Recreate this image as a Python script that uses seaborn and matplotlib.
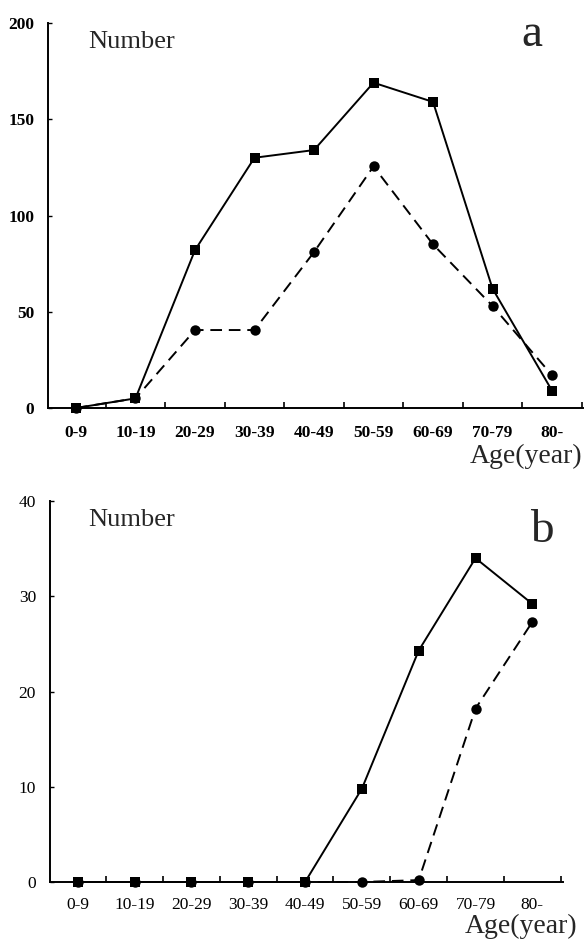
import numpy as np
import pandas as pd
import matplotlib
matplotlib.use("Agg")
import matplotlib.pyplot as plt
import seaborn as sns
from matplotlib.ticker import FixedLocator

sns.set_theme(style="white")
plt.rcParams['font.family'] = ['Liberation Serif', 'DejaVu Serif']

categories = ["0-9", "10-19", "20-29", "30-39", "40-49", "50-59", "60-69", "70-79", "80-"]
a_solid = [0, 5, 82, 130, 134, 169, 159, 62, 9]
a_dashed = [0, 5, 40.5, 40.5, 81, 125.5, 85, 53, 17]
b_solid = [0, 0, 0, 0, 0, 9.8, 24.3, 34.0, 29.2]
b_dashed = [0, 0, 0, 0, 0, 0, 0.2, 18.2, 27.3]
a_yticks = [0, 50, 100, 150, 200]
b_yticks = [0, 10, 20, 30, 40]

W, H = 584, 942
fig = plt.figure(figsize=(W / 100, H / 100), dpi=100)

def px_axes(left, top, right, bottom):
    return fig.add_axes([left / W, 1 - bottom / H, (right - left) / W, (bottom - top) / H])

ax_a = px_axes(48, 23, 583, 408)
ax_b = px_axes(50, 501, 563, 882)

x = np.arange(len(categories))

def draw(ax, solid, dashed, ymax, yticks, xlim, bold, xpad, letter, letter_pos):
    ax.set_facecolor("white")
    sns.lineplot(x=x, y=dashed, ax=ax, color="black", linestyle=(0, (6, 3.5)), linewidth=1.4,
                 marker="o", markersize=7.5, markeredgewidth=0, markerfacecolor="black",
                 clip_on=False, zorder=3)
    sns.lineplot(x=x, y=solid, ax=ax, color="black", linestyle="-", linewidth=1.4,
                 marker="s", markersize=7, markeredgewidth=0, markerfacecolor="black",
                 clip_on=False, zorder=4)
    ax.set_xlim(*xlim)
    ax.set_ylim(0, ymax)
    for s in ["top", "right"]:
        ax.spines[s].set_visible(False)
    for s in ["left", "bottom"]:
        ax.spines[s].set_color("black")
        ax.spines[s].set_linewidth(1.4)
    ax.set_xticks(x)
    ax.set_xticklabels(categories)
    ax.xaxis.set_minor_locator(FixedLocator(np.arange(0.5, len(categories) - 0.5 + 0.01, 1.0)))
    ax.tick_params(axis="x", which="major", length=0, pad=xpad, labelsize=12.5, labelcolor="black")
    ax.tick_params(axis="x", which="minor", direction="in", length=4, width=1.2, color="black", bottom=True)
    ax.set_yticks(yticks)
    ax.set_yticklabels([str(v) for v in yticks])
    ax.tick_params(axis="y", which="major", direction="in", length=3, width=1.0, color="black",
                   pad=10, labelsize=12.5, labelcolor="black", left=True)
    weight = "bold" if bold else "normal"
    for lab in ax.get_xticklabels() + ax.get_yticklabels():
        lab.set_fontweight(weight)
    ax.set_xlabel("")
    ax.set_ylabel("")
    ax.grid(False)
    ax.text(0.075, 0.951, "Number", transform=ax.transAxes, fontsize=19, va="center", ha="left")
    ax.text(letter_pos[0], letter_pos[1], letter, transform=ax.transAxes, fontsize=34,
            va="baseline", ha="center")

draw(ax_a, a_solid, a_dashed, 200, a_yticks, (-0.47, 8.52), True, 12, "a", (0.905, 0.941))
draw(ax_b, b_solid, b_dashed, 40, b_yticks, (-0.49, 8.54), False, 11, "b", (0.959, 0.893))

fig.text(0.997, (H - 463) / H, "Age(year)", fontsize=20, ha="right", va="baseline")
fig.text(577 / W, (H - 933) / H, "Age(year)", fontsize=20, ha="right", va="baseline")

fig.savefig("out.png", dpi=100, facecolor="white")
